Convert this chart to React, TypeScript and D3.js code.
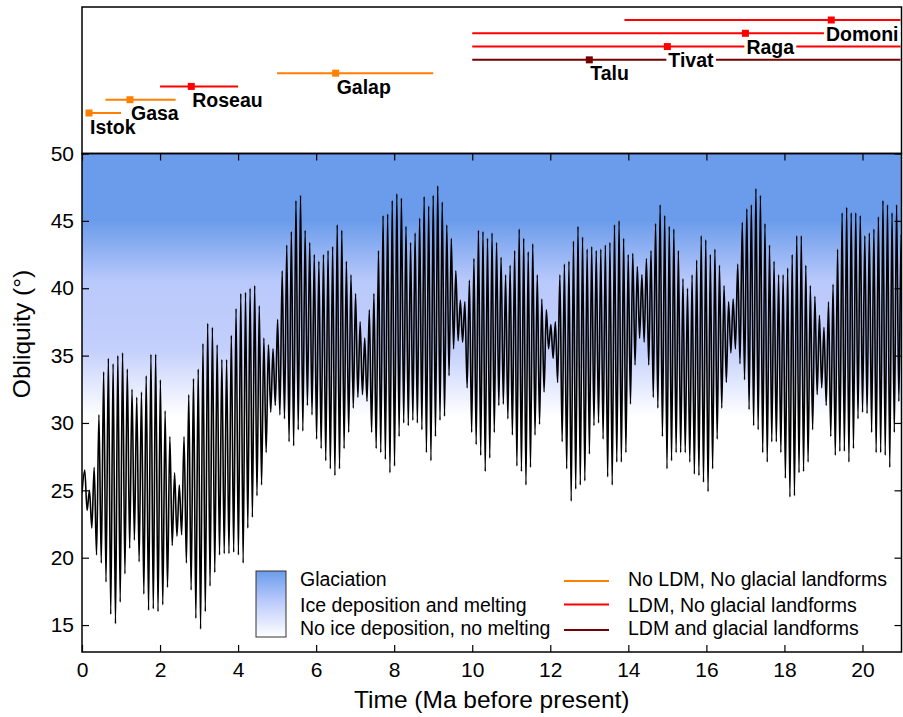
import React, { useEffect, useRef } from 'react';
import * as d3 from 'd3';

const W = 903, H = 717;
const FONT = '"Liberation Sans", Arial, Helvetica, sans-serif';

// landing sites shown above the obliquity record
const siteNames = ['Istok', 'Gasa', 'Roseau', 'Galap', 'Talu', 'Tivat', 'Raga', 'Domoni'];
const siteFromMa = [0.1, 0.6, 2.0, 5.0, 10.0, 10.0, 10.0, 13.9];
const siteToMa = [1.0, 2.4, 4.0, 9.0, 21.0, 21.0, 21.0, 21.0];
const siteAgeMa = [0.18, 1.23, 2.8, 6.5, 13.0, 15.0, 17.0, 19.2];
const siteClass = [0, 0, 1, 0, 2, 1, 1, 1];

const classNames = ['No LDM, No glacial landforms', 'LDM, No glacial landforms', 'LDM and glacial landforms'];
const classColors = ['#ff8000', '#ff0000', '#740000'];
const zoneNames = ['Glaciation', 'Ice deposition and melting', 'No ice deposition, no melting'];

const xTicks = [0, 2, 4, 6, 8, 10, 12, 14, 16, 18, 20];
const yTicks = [15, 20, 25, 30, 35, 40, 45, 50];

// obliquity (deg): each maximum, read left to right
const obliquityPeaks = [
  26.5, 25.0, 26.7, 30.6, 33.8, 34.8, 34.4, 35.0, 35.2, 34.0, 32.5, 31.9, 32.3, 33.5, 35.1, 35.1, 33.2,
  30.9, 29.0, 26.3, 25.4, 29.0, 32.1, 33.3, 34.0, 35.9, 37.4, 37.1, 35.8, 34.7, 34.7, 36.5, 38.5, 39.6,
  39.7, 40.0, 40.2, 38.7, 36.3, 35.8, 35.5, 37.7, 41.3, 43.2, 44.2, 46.5, 46.9, 44.3, 43.4, 42.5, 42.0, 42.5,
  42.8, 43.1, 44.7, 44.3, 42.0, 41.0, 39.6, 37.5, 36.3, 38.4, 39.6, 42.8, 45.4, 45.5, 46.5, 47.0, 46.7, 44.6,
  43.4, 44.1, 45.2, 46.8, 46.1, 46.9, 47.6, 46.4, 44.7, 43.7, 41.3, 39.1, 39.0, 40.6, 42.2, 44.3, 44.2, 43.7,
  44.1, 43.4, 42.3, 41.0, 41.7, 42.8, 44.4, 43.7, 42.7, 43.3, 41.0, 39.2, 38.4, 37.3, 37.5, 41.0, 41.8, 42.0, 43.5,
  44.6, 43.8, 42.9, 43.1, 42.8, 42.9, 43.2, 43.4, 44.7, 45.0, 43.7, 42.5, 42.6, 41.6, 41.0, 42.2, 42.8, 44.8,
  46.2, 45.4, 44.6, 44.4, 42.8, 40.7, 40.0, 41.0, 42.1, 43.9, 43.6, 42.5, 42.9, 41.7, 40.2, 39.0, 39.2, 41.8,
  44.9, 45.9, 46.2, 47.4, 46.9, 44.8, 43.2, 42.0, 41.0, 41.0, 41.5, 42.5, 43.9, 43.9, 41.7, 40.2, 39.4, 38.0,
  37.1, 39.0, 40.3, 42.9, 45.6, 46.0, 45.6, 45.6, 45.4, 43.9, 44.1, 44.4, 45.3, 46.5, 46.2, 45.6, 46.2, 44.0,
];
// the minimum that follows each maximum
const obliquityTroughs = [
  23.5, 22.2, 20.2, 19.6, 18.2, 15.8, 15.1, 16.7, 18.8, 20.7, 21.3, 19.7, 17.3, 16.1, 16.2, 16.0, 16.5,
  17.8, 20.9, 21.6, 21.7, 19.6, 17.6, 15.5, 14.7, 16.0, 17.9, 18.9, 20.2, 20.3, 20.3, 20.4, 20.2, 19.6,
  22.2, 23.0, 24.6, 25.4, 27.8, 30.8, 31.3, 30.6, 30.3, 28.6, 28.3, 29.5, 29.4, 31.3, 30.6, 28.8, 28.1, 27.2,
  26.6, 26.1, 26.6, 28.1, 29.3, 31.1, 31.9, 32.1, 31.6, 29.3, 28.1, 27.8, 27.3, 26.3, 26.8, 29.0, 30.0, 29.8,
  30.2, 30.0, 29.5, 27.8, 27.2, 29.0, 30.2, 30.5, 33.5, 35.5, 36.1, 36.0, 32.6, 29.3, 28.4, 27.6, 26.4, 27.4,
  29.3, 31.3, 31.4, 30.3, 29.1, 26.8, 26.4, 25.4, 26.7, 29.1, 29.9, 32.3, 35.5, 34.8, 33.0, 28.6, 26.6, 24.2, 25.1,
  25.4, 25.7, 27.7, 29.8, 30.0, 28.8, 26.0, 25.4, 27.1, 27.1, 27.8, 31.4, 34.3, 36.3, 36.0, 34.3, 31.9, 31.1,
  29.0, 26.6, 27.2, 27.8, 27.8, 27.8, 27.1, 26.2, 26.1, 25.6, 24.9, 26.6, 28.8, 31.1, 33.0, 35.2, 35.5, 34.4,
  33.2, 31.0, 29.8, 29.5, 27.8, 27.1, 28.6, 28.6, 27.8, 25.9, 24.5, 24.6, 26.3, 26.4, 27.1, 29.5, 32.1, 32.6,
  31.3, 29.0, 27.6, 27.9, 27.9, 27.1, 28.1, 30.3, 30.8, 30.7, 29.3, 27.8, 27.8, 27.6, 26.7, 29.3, 31.6, 32.0,
];
// age (Ma) of a few maxima, by their position in the list above
const peakIndexAnchors = [0, 34, 70, 107, 143, 178];
const peakMaAnchors = [0.07, 4.19, 8.42, 12.71, 16.92, 20.99];
const obliquityAtPresent = 24.8;

// background shading, by obliquity
const shadeDeg = [50, 45, 40.5, 35.5, 30.5];
const shadeColor = ['#6b9ceb', '#6b9ceb', '#b9c9fb', '#c3cffc', '#ffffff'];

export default function App() {
  const ref = useRef<SVGSVGElement>(null);

  useEffect(() => {
    makeChart();
  }, []);

  const makeChart = () => {
    const svg = d3.select(ref.current);
    svg.selectAll('*').remove();

    const left = 82, right = 901.5, top = 153.5, bottom = 652;
    const x = d3.scaleLinear().domain([0, 21]).range([left, right]);
    const y = d3.scaleLinear().domain([13, 50]).range([bottom, top]);
    const row = d3.scaleLinear().domain([0, 7]).range([113, 20]);
    const peakAge = d3.scaleLinear().domain(peakIndexAnchors).range(peakMaAnchors);

    const defs = svg.append('defs');
    const bg = defs.append('linearGradient')
      .attr('id', 'bg').attr('gradientUnits', 'userSpaceOnUse')
      .attr('x1', 0).attr('x2', 0).attr('y1', y(50)).attr('y2', y(13));
    shadeDeg.forEach((d, i) => {
      bg.append('stop')
        .attr('offset', (y(d) - y(50)) / (y(13) - y(50)))
        .attr('stop-color', shadeColor[i]);
    });
    const lg = defs.append('linearGradient')
      .attr('id', 'lg').attr('x1', 0).attr('x2', 0).attr('y1', 0).attr('y2', 1);
    lg.append('stop').attr('offset', 0).attr('stop-color', shadeColor[0]);
    lg.append('stop').attr('offset', 0.45).attr('stop-color', shadeColor[2]);
    lg.append('stop').attr('offset', 1).attr('stop-color', '#ffffff');
    defs.append('clipPath').attr('id', 'plot')
      .append('rect').attr('x', left).attr('y', top).attr('width', right - left).attr('height', bottom - top);

    // main panel background
    svg.append('rect')
      .attr('x', left).attr('y', top).attr('width', right - left).attr('height', bottom - top)
      .attr('fill', 'url(#bg)');

    // obliquity line
    const pts: [number, number][] = [[0, obliquityAtPresent]];
    obliquityPeaks.forEach((p, i) => {
      pts.push([peakAge(i), p]);
      pts.push([peakAge(i + 0.5), obliquityTroughs[i]]);
    });
    svg.append('path')
      .datum(pts)
      .attr('clip-path', 'url(#plot)')
      .attr('fill', 'none')
      .attr('stroke', '#000')
      .attr('stroke-width', 1.6)
      .attr('d', d3.line<[number, number]>()
        .x(d => x(d[0]))
        .y(d => y(d[1]))
        .curve(d3.curveMonotoneX));

    // inward ticks on all four sides
    const tickG = (g: any) => {
      g.select('.domain').remove();
      g.selectAll('line').attr('stroke', '#000').attr('stroke-width', 1.2);
    };
    svg.append('g').attr('transform', `translate(0,${bottom})`)
      .call(d3.axisBottom(x).tickValues(xTicks).tickSize(-7).tickFormat(() => '')).call(tickG);
    svg.append('g').attr('transform', `translate(0,${top})`)
      .call(d3.axisTop(x).tickValues(xTicks).tickSize(-7).tickFormat(() => '')).call(tickG);
    svg.append('g').attr('transform', `translate(${left},0)`)
      .call(d3.axisLeft(y).tickValues(yTicks).tickSize(-7).tickFormat(() => '')).call(tickG);
    svg.append('g').attr('transform', `translate(${right},0)`)
      .call(d3.axisRight(y).tickValues(yTicks).tickSize(-7).tickFormat(() => '')).call(tickG);

    // tick labels
    const xl = svg.append('g').attr('transform', `translate(0,${bottom})`)
      .call(d3.axisBottom(x).tickValues(xTicks).tickSize(0).tickPadding(10));
    xl.select('.domain').remove();
    xl.selectAll('text').attr('font-size', 21).attr('font-family', FONT).attr('fill', '#000');
    const yl = svg.append('g').attr('transform', `translate(${left},0)`)
      .call(d3.axisLeft(y).tickValues(yTicks).tickSize(0).tickPadding(8));
    yl.select('.domain').remove();
    yl.selectAll('text').attr('font-size', 21).attr('font-family', FONT).attr('fill', '#000');

    // axis titles
    svg.append('text')
      .attr('x', (left + right) / 2).attr('y', 708)
      .attr('text-anchor', 'middle')
      .attr('font-family', FONT).attr('font-size', 24.5)
      .text('Time (Ma before present)');
    svg.append('text')
      .attr('transform', 'translate(30,334) rotate(-90)')
      .attr('text-anchor', 'middle')
      .attr('font-family', FONT).attr('font-size', 24.5)
      .text('Obliquity (\u00B0)');

    // frames
    svg.append('rect')
      .attr('x', left).attr('y', top).attr('width', right - left).attr('height', bottom - top)
      .attr('fill', 'none').attr('stroke', '#000').attr('stroke-width', 1.5);
    svg.append('rect')
      .attr('x', left).attr('y', 7).attr('width', right - left).attr('height', top - 7)
      .attr('fill', 'none').attr('stroke', '#000').attr('stroke-width', 1.5);

    // top panel: age ranges of sites
    const sites = svg.append('g');
    siteNames.forEach((name, i) => {
      sites.append('line')
        .attr('x1', x(siteFromMa[i])).attr('x2', Math.min(x(siteToMa[i]), right - 1))
        .attr('y1', row(i)).attr('y2', row(i))
        .attr('stroke', classColors[siteClass[i]]).attr('stroke-width', 2);
    });
    siteNames.forEach((name, i) => {
      const lab = sites.append('g');
      const rect = lab.append('rect').attr('fill', '#fff');
      const t = lab.append('text')
        .attr('y', row(i) + 20.5)
        .attr('font-family', FONT).attr('font-size', 19.5).attr('font-weight', 'bold')
        .text(name);
      const wText = (t.node() as SVGTextElement).getComputedTextLength();
      t.attr('x', Math.min(x(siteAgeMa[i]) + 1, right - 3 - wText));
      const b = (t.node() as SVGTextElement).getBBox();
      rect.attr('x', b.x - 2).attr('y', b.y + 3).attr('width', Math.min(b.width + 4, right - 1 - (b.x - 2)))
        .attr('height', b.height - 4);
    });
    siteNames.forEach((name, i) => {
      sites.append('rect')
        .attr('x', x(siteAgeMa[i]) - 3.5).attr('y', row(i) - 3.5)
        .attr('width', 7).attr('height', 7)
        .attr('fill', classColors[siteClass[i]]);
    });

    // legend: shading
    const leg = svg.append('g').attr('font-family', FONT).attr('font-size', 19.5);
    leg.append('rect')
      .attr('x', 256).attr('y', 571).attr('width', 30).attr('height', 66)
      .attr('fill', 'url(#lg)').attr('stroke', '#333').attr('stroke-width', 1);
    const rowsY = [586, 611.5, 635];
    zoneNames.forEach((z, i) => {
      leg.append('text').attr('x', 300).attr('y', rowsY[i]).text(z);
    });
    // legend: site classes
    const lineY = [581, 604.5, 630];
    classNames.forEach((c, i) => {
      leg.append('line')
        .attr('x1', 564).attr('x2', 609).attr('y1', lineY[i]).attr('y2', lineY[i])
        .attr('stroke', classColors[i]).attr('stroke-width', 2);
      leg.append('text').attr('x', 628).attr('y', rowsY[i]).text(c);
    });
  };

  return (
    <svg ref={ref} width={W} height={H}
      style={{ position: 'absolute', left: 0, top: 0, background: '#fff' }} />
  );
}
